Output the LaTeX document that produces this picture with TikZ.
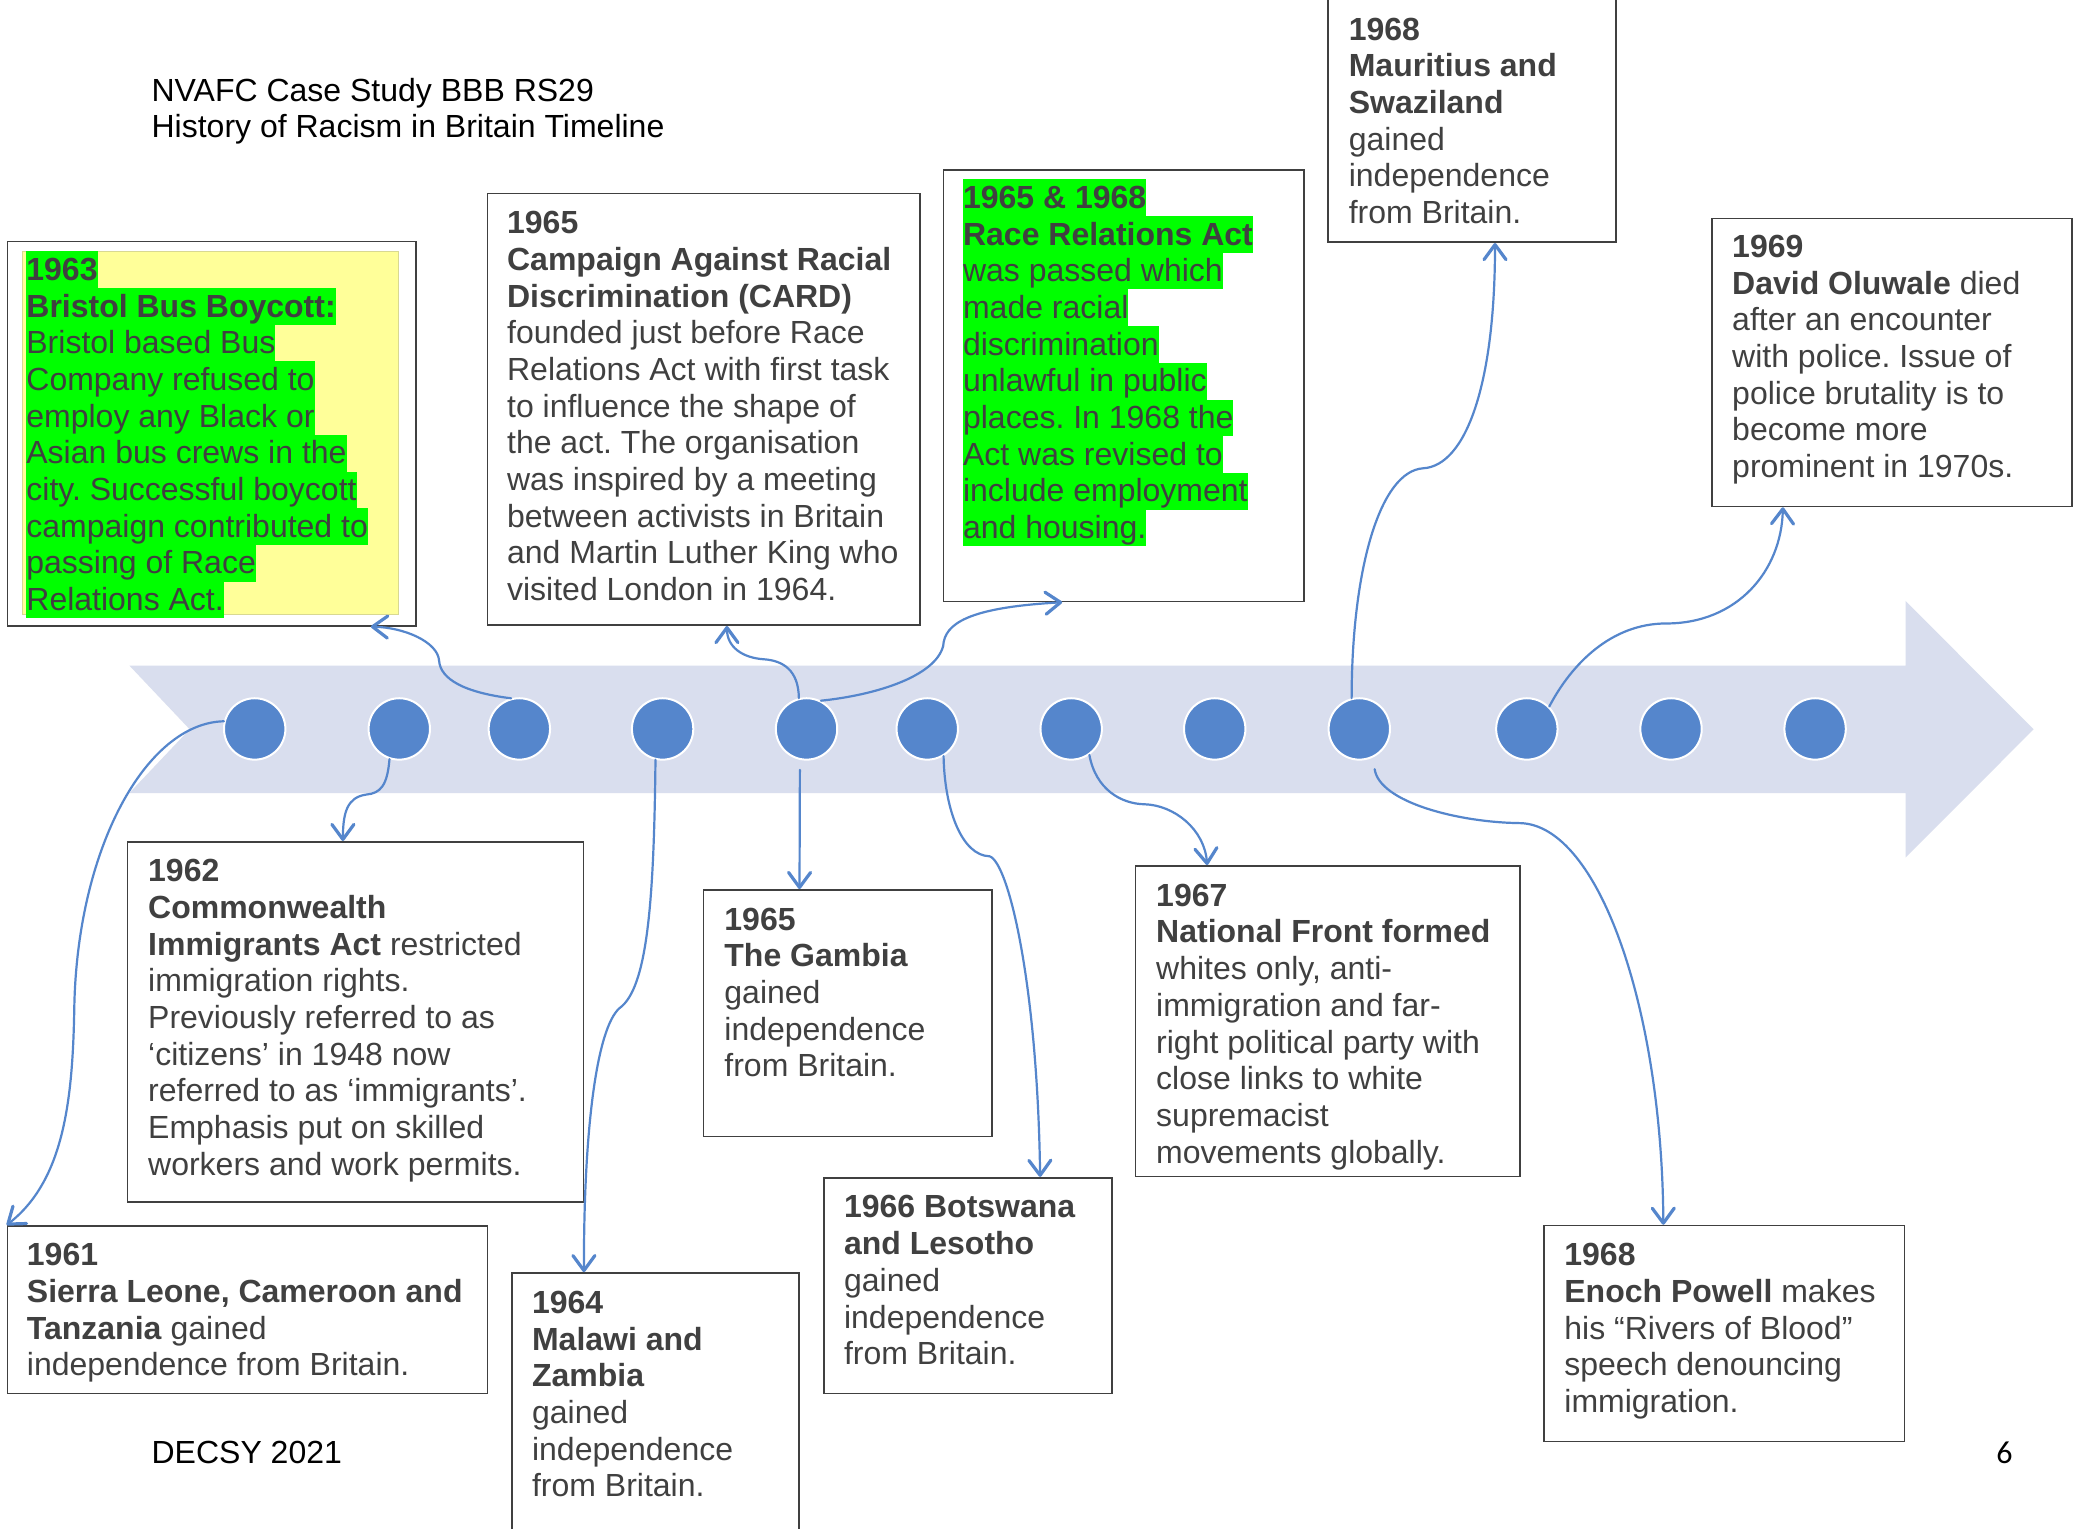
\documentclass[tikz,border=0pt]{standalone}
\usepackage{fontspec}
\setmainfont{Liberation Sans}
\newfontfamily\pagenumfont{Carlito}
\usetikzlibrary{arrows.meta,calc}
\definecolor{bandcol}{HTML}{D9DEEE}
\definecolor{dotcol}{HTML}{5586CC}
\definecolor{txtcol}{HTML}{404040}
\definecolor{hlgreen}{HTML}{00FF00}
\definecolor{hlyellow}{HTML}{FFFF99}
\newcommand\uu{0.66327pt}
\newcommand\hs{\rule[-3.85pt]{0pt}{18.35pt}}
\newcommand\hl[1]{{\setlength{\fboxsep}{0pt}\colorbox{hlgreen}{\hs#1}}}
\frenchspacing
\begin{document}
\begin{tikzpicture}[x=0.66327pt,y=-0.66327pt,
  dotnode/.style={circle,fill=dotcol,draw=white,line width=1pt,minimum size=30.7pt,inner sep=0pt},
  bx/.style n args={2}{draw=txtcol,line width=0.8pt,fill=white,inner sep=0pt,anchor=north west,
      minimum width={#1*\uu},minimum height={#2*\uu}},
  tx/.style={anchor=north west,inner sep=0pt,align=left,text=txtcol,font=\fontsize{16}{18.35}\selectfont\frenchspacing},
  plain/.style={anchor=north west,inner sep=0pt,align=left,text=black,font=\fontsize{16}{18.35}\selectfont},
  conn/.style={draw=dotcol,line width=1.1pt,line cap=round,
      -{Straight Barb[length=7.5pt,width=11pt,line width=1.6pt,round]}}]
\useasboundingbox (0,0) rectangle (1568,1152);
\fill[white] (0,0) rectangle (1568,1152);

% timeline band
\fill[bandcol] (97.5,501.7) -- (1436.5,501.7) -- (1436.5,453) -- (1533,549.8) -- (1436.5,646.5)
  -- (1436.5,597.8) -- (97.5,597.8) -- (143,549.8) -- cycle;

% dots
\foreach \n/\xx in {1/192,2/301,3/391.5,4/499.5,5/608,6/699,7/807.5,8/915.7,9/1024.7,10/1151,11/1259.7,12/1368.3}
  \node[dotnode] (c\n) at (\xx,549.5) {};

% boxes
\node[bx={308}{289.7}] (b1963) at (5,181.5) {};
\fill[hlyellow,draw=hlyellow!70!gray,line width=0.3pt] (16.8,189.2) rectangle (300.3,463.1);
\node[bx={326}{325.5}] (bCARD) at (367,145.2) {};
\node[bx={271.8}{325.4}] (bRRA) at (710.7,127.4) {};
\node[bx={216.9}{192}] (bMaur) at (1000.6,-10) {};
\node[bx={271.3}{217.2}] (b1969) at (1290,164) {};
\node[bx={343.9}{271.7}] (b1962) at (95.5,634) {};
\node[bx={362}{126.5}] (b1961) at (5,923.5) {};
\node[bx={216.6}{220}] (b1964) at (385.2,959) {};
\node[bx={217.3}{186}] (bGam) at (529.7,670.2) {};
\node[bx={217}{162.8}] (bBot) at (620.6,887.2) {};
\node[bx={289.9}{234.1}] (bNF) at (855.5,652.1) {};
\node[bx={271.5}{162.7}] (bEnoch) at (1163.5,923.3) {};

% connectors
\draw[conn] (c1.166) .. controls (110,545) and (58,640) .. (56,760)
  .. controls (54.8,830) and (48,890) .. (b1961.north west);
\draw[conn] (c2.252) .. controls (292,592) and (287,598) .. (276,599)
  .. controls (262,601) and (258.5,612) .. ($(b1962.north west)+(163,0)$);
\draw[conn] (c3.105) .. controls (350,522) and (332,512) .. (331,498)
  .. controls (330,484) and (305,473) .. ($(b1963.south east)+(-34.6,0)$);
\draw[conn] (c4.257) .. controls (493,680) and (488,745) .. (467,760)
  .. controls (450,775) and (440,850) .. ($(b1964.north west)+(55,0)$);
\draw[conn] (c5.104) .. controls (602,505) and (590,498) .. (576,497)
  .. controls (560,496) and (548,488) .. ($(bCARD.south west)+(181,0)$);
\draw[conn] (c5.63) .. controls (660,524) and (705,510) .. (711,487)
  .. controls (712,470) and (730,458) .. ($(bRRA.south west)+(90,0)$);
\draw[conn] ($(c5.south)+(-5,7)$) -- ($(bGam.north west)+(73,0)$);
\draw[conn] (c6.301) .. controls (712,610) and (725,645) .. (746,645.5)
  .. controls (760,650) and (782,740) .. ($(bBot.north west)+(163.5,0)$);
\draw[conn] (c7.305) .. controls (826,595) and (845,606) .. (863,606.3)
  .. controls (885,607) and (908,625) .. ($(bNF.north west)+(54.5,0)$);
\draw[conn] (c9.104) .. controls (1019,430) and (1040,355) .. (1073,353)
  .. controls (1105,351) and (1127,290) .. ($(bMaur.south west)+(126.4,0)$);
\draw[conn] ($(c9.291)+(3,8)$) .. controls (1040,605) and (1100,620) .. (1146,620.5)
  .. controls (1205,622) and (1253,760) .. ($(bEnoch.north west)+(90.4,0)$);
\draw[conn] (c10.45) .. controls (1185,500) and (1215,470) .. (1256,470)
  .. controls (1310,470) and (1343,430) .. ($(b1969.south west)+(54,0)$);

% texts
\node[plain] (title) at (114,54) {\hs NVAFC Case Study BBB RS29\\History of Racism in Britain Timeline};
\node[plain] (decsy) at (114,1081) {\hs DECSY 2021};
\node[text=black,inner sep=0pt,font=\pagenumfont\fontsize{16}{19}\selectfont] (pnum) at (1511,1095.5) {6};

\node[tx] (t1963) at (19.6,189.2) {\hl{\textbf{1963}}\\
\hl{\textbf{Bristol Bus Boycott:}}\\
\hl{Bristol based Bus}\\
\hl{Company refused to}\\
\hl{employ any Black or}\\
\hl{Asian bus crews in the}\\
\hl{city. Successful boycott}\\
\hl{campaign contributed to}\\
\hl{passing of Race}\\
\hl{Relations Act.}};

\node[tx] (tCARD) at (382,154) {\hs\textbf{1965}\\
\textbf{Campaign Against Racial}\\
\textbf{Discrimination (CARD)}\\
founded just before Race\\
Relations Act with first task\\
to influence the shape of\\
the act. The organisation\\
was inspired by a meeting\\
between activists in Britain\\
and Martin Luther King who\\
visited London in 1964.};

\node[tx] (tRRA) at (725.7,134.9) {\hl{\textbf{1965 \& 1968}}\\
\hl{\textbf{Race Relations Act}}\\
\hl{was passed which}\\
\hl{made racial}\\
\hl{discrimination}\\
\hl{unlawful in public}\\
\hl{places. In 1968 the}\\
\hl{Act was revised to}\\
\hl{include employment}\\
\hl{and housing.}};

\node[tx] (tMaur) at (1016.5,8) {\hs\textbf{1968}\\
\textbf{Mauritius and}\\
\textbf{Swaziland}\\
gained\\
independence\\
from Britain.};

\node[tx] (t1969) at (1305.5,171.8) {\hs\textbf{1969}\\
\textbf{David Oluwale} died\\
after an encounter\\
with police. Issue of\\
police brutality is to\\
become more\\
prominent in 1970s.};

\node[tx] (t1962) at (111.4,642.5) {\hs\textbf{1962}\\
\textbf{Commonwealth}\\
\textbf{Immigrants Act} restricted\\
immigration rights.\\
Previously referred to as\\
‘citizens’ in 1948 now\\
referred to as ‘immigrants’.\\
Emphasis put on skilled\\
workers and work permits.};

\node[tx] (t1961) at (20,932) {\hs\textbf{1961}\\
\textbf{Sierra Leone, Cameroon and}\\
\textbf{Tanzania} gained\\
independence from Britain.};

\node[tx] (t1964) at (400.8,968) {\hs\textbf{1964}\\
\textbf{Malawi and}\\
\textbf{Zambia}\\
gained\\
independence\\
from Britain.};

\node[tx] (tGam) at (545.8,679) {\hs\textbf{1965}\\
\textbf{The Gambia}\\
gained\\
independence\\
from Britain.};

\node[tx] (tBot) at (636,896) {\hs\textbf{1966 Botswana}\\
\textbf{and Lesotho}\\
gained\\
independence\\
from Britain.};

\node[tx] (tNF) at (871.3,661) {\hs\textbf{1967}\\
\textbf{National Front formed}\\
whites only, anti-\\
immigration and far-\\
right political party with\\
close links to white\\
supremacist\\
movements globally.};

\node[tx] (tEnoch) at (1179,932) {\hs\textbf{1968}\\
\textbf{Enoch Powell} makes\\
his “Rivers of Blood”\\
speech denouncing\\
immigration.};
\end{tikzpicture}
\end{document}
